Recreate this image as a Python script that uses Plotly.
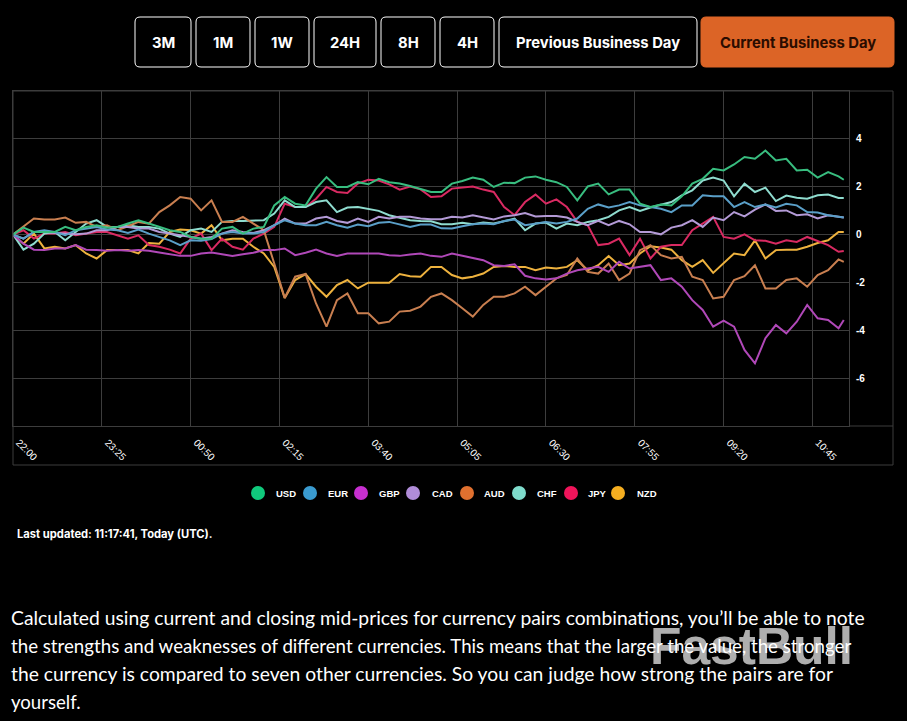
import plotly.graph_objects as go

# minutes since 22:00
minutes = list(range(0, 800, 10)) + [795]
tick_minutes = [0, 85, 170, 255, 340, 425, 510, 595, 680, 765]
tick_labels = ["22:00", "23:25", "00:50", "02:15", "03:40", "05:05", "06:30", "07:55", "09:20", "10:45"]
y_ticks = [-8, -6, -4, -2, 0, 2, 4, 6]
y_labels = ["", "-6", "-4", "-2", "0", "2", "4", ""]

usd = [0, .29, .11, .11, .11, .32, .18, .32, .39, .29, .32, .46, .6, .46, .32, .18, .11, -.1, -.17, -.17, .25, .32, .04, .25, .32, 1.22, 1.57, 1.29,
       1.22, 1.92, 2.4, 1.99, 1.99, 2.19, 2.1, 2.33, 2.19, 2.13, 2.03, 1.92, 1.78, 1.78, 2.13, 2.24, 2.38, 2.29, 1.99, 2.17, 2.15, 2.38, 2.43, 2.29, 2.19, 1.99,
       1.43, 2.01, 2.13, 1.68, 1.88, 1.88, 1.29, 1.15, 1.26, 1.22, 1.6, 2.13, 2.33, 2.75, 2.68, 2.93, 3.24, 3.17, 3.51, 3.1, 3.17, 2.68, 2.71, 2.38, 2.61, 2.43, 2.29]
eur = [0, -.17, .11, .18, .11, -.03, .18, .25, .32, .21, .18, .07, .21, .04, -.1, -.24, -.44, -.24, -.26, -.19, .04, .11, .04, .04, .11, .39, .6, .46,
       .39, .39, .53, .39, .29, .42, .35, .49, .53, .42, .32, .42, .42, .26, .25, .35, .43, .46, .43, .57, .63, .39, .46, .53, .46, .53,
       .67, 1.08, 1.26, 1.13, 1.22, 1.36, 1.22, 1.15, 1.08, .94, 1.22, 1.22, 1.64, 1.6, 1.6, 1.15, 1.36, 1.15, 1.26, 1.13, 1.29, 1.22, .94, .92, .81, .74, .71]
gbp = [0, -.38, -.63, -.65, -.58, -.58, -.44, -.63, -.65, -.68, -.65, -.68, -.65, -.68, -.75, -.83, -.89, -.89, -.79, -.75, -.82, -.89, -.82, -.76, -.65, -.65, -.58, -.86,
       -.76, -.63, -.79, -.89, -.79, -.79, -.82, -.79, -.86, -.89, -.83, -.79, -.89, -.93, -.79, -.89, -1.0, -1.07, -1.28, -1.31, -1.24, -1.72, -1.83, -1.88, -1.83, -1.63,
       -1.49, -1.42, -1.35, -1.56, -1.14, -1.42, -1.35, -1.28, -1.9, -1.83, -2.18, -2.74, -3.15, -3.85, -3.6, -3.85, -4.82, -5.38, -4.33, -3.78, -4.13, -3.64, -2.94, -3.5, -3.57, -3.92, -3.57]
cad = [0, -.17, .11, .11, .07, .04, .01, .04, .18, .18, .32, .32, .25, .25, .11, .04, -.03, -.07, -.17, -.1, .04, .18, .11, .07, .18, .39, .67, .46,
       .46, .67, .74, .57, .49, .67, .53, .74, .67, .74, .74, .67, .64, .64, .74, .71, .81, .71, .63, .76, .81, .9, .76, .78, .78, .71,
       .53, .39, .57, .39, .57, .43, .11, .11, .01, .29, .39, .6, .32, .71, .6, .94, .76, 1.04, 1.26, .99, 1.01, .81, .85, .67, .81, .74, .71]
aud = [0, .32, .67, .63, .63, .71, .49, .53, .32, .39, .18, .35, .53, .46, .94, 1.22, 1.57, 1.5, 1.01, 1.43, .53, .53, .74, .46, .18, -1.21, -2.65, -1.76,
       -1.65, -2.88, -3.85, -2.74, -2.46, -3.29, -3.29, -3.71, -3.64, -3.22, -3.18, -3.01, -2.6, -2.46, -2.74, -3.08, -3.43, -2.94, -2.6, -2.6, -2.46, -2.18, -2.53, -2.18, -1.83, -1.69,
       -1.0, -1.56, -1.63, -1.21, -1.9, -1.63, -.65, -.44, -.86, -1.0, -.93, -1.76, -1.9, -2.67, -2.6, -1.9, -1.74, -1.28, -2.25, -2.25, -1.9, -1.83, -2.18, -1.69, -1.49, -1.04, -1.14]
chf = [0, -.63, -.38, .04, .11, -.24, .11, .46, .6, .32, .32, .39, .32, .32, .25, .04, -.1, .18, .25, .11, .53, .57, .57, .57, .6, .88, 1.43, 1.15,
       1.15, 1.36, 1.43, .94, 1.13, 1.15, 1.08, .99, .81, .71, .6, .57, .56, .43, .43, .49, .43, .5, .46, .56, .67, .18, .46, .5, .25, .46,
       .39, .53, .6, .74, 1.01, 1.15, .99, 1.13, 1.26, 1.36, 1.64, 1.85, 2.26, 2.38, 2.26, 1.6, 2.13, 1.78, 1.96, 1.4, 1.63, 1.54, 1.5, 1.64, 1.67, 1.53, 1.53]
jpy = [0, .18, -.17, .04, .04, .11, -.03, .04, .11, .11, -.03, -.17, -.03, -.44, -.51, -.63, -.79, -.17, .04, -.65, -.17, -.51, -.63, -.17, .04, .32, 1.29, 1.15,
       1.15, 1.5, 1.99, 1.78, 1.74, 2.13, 2.29, 2.26, 2.1, 1.88, 2.01, 1.89, 1.57, 1.6, 1.92, 1.96, 2.01, 1.88, 1.78, 1.15, .81, 1.36, 1.67, 1.29, 1.47, 1.15,
       .53, .39, -.44, -.38, -.17, -.86, -.17, -1.0, -.51, -.44, -.44, .18, .46, .74, -.1, -.17, .01, -.24, -.26, -.38, -.24, -.31, -.1, -.26, -.44, -.72, -.69]
nzd = [0, -.38, .04, -.58, -.51, -.58, -.44, -.79, -1.0, -.65, -.65, -.65, -.79, -.35, -.38, .11, .21, .18, .04, .39, -.24, -.17, -.17, -.51, -.79, -1.35, -2.65, -1.9,
       -1.65, -2.18, -2.6, -2.11, -1.9, -2.25, -2.01, -2.01, -2.01, -1.65, -1.74, -1.76, -1.35, -1.35, -1.69, -1.83, -1.76, -1.63, -1.35, -1.31, -1.35, -1.35, -1.49, -1.38, -1.42, -1.35,
       -1.07, -1.49, -1.28, -.9, -1.28, -1.21, -.79, -.49, -.54, -.63, -1.07, -1.35, -1.07, -1.6, -1.21, -.79, -.86, -.24, -1.0, -.65, -.63, -.63, -.51, -.35, -.24, .11, .11]

names = ["USD", "EUR", "GBP", "CAD", "AUD", "CHF", "JPY", "NZD"]
series = [usd, eur, gbp, cad, aud, chf, jpy, nzd]
dot_colors = ["#10c97c", "#3a9bd0", "#c72fd0", "#b08cd8", "#e0702f", "#7fdccc", "#f0145a", "#f5ae20"]
line_colors = ["#38bd7f", "#5a9fc8", "#b048b8", "#b39ad6", "#c97f50", "#8fdccf", "#d92a62", "#eeb23e"]

# legend is hand placed, the native one can't get this tight
dot_x = [258, 310, 361, 413, 467, 519, 571, 618]
name_x = [274, 326, 377, 430, 482, 535, 586, 635]

button_labels = ["3M", "1M", "1W", "24H", "8H", "4H", "Previous Business Day", "Current Business Day"]
button_left = [135, 196, 255, 314, 381, 440, 499, 701]
button_right = [191, 250, 309, 376, 435, 494, 697, 894]

paragraph = [
    "Calculated using current and closing mid-prices for currency pairs combinations, you’ll be able to note",
    "the strengths and weaknesses of different currencies. This means that the larger the value, the stronger",
    "the currency is compared to seven other currencies. So you can judge how strong the pairs are for",
    "yourself.",
]
# Lato runs wider than the original font on some lines
paragraph_sizes = [19.3, 18.7, 19.3, 18.6]

grid = "#3d3d3d"
L, R, T, B = 13, 849, 91, 426


def px(x):
    return (x - L) / (R - L)


def py(y):
    return (B - y) / (B - T)


def round_rect(x0, y0, x1, y1, r=5):
    a, b, c, d = px(x0), px(x1), py(y0), py(y1)
    rx, ry = r / (R - L), r / (B - T)
    return (f"M {a+rx} {c} L {b-rx} {c} Q {b} {c} {b} {c-ry} L {b} {d+ry} Q {b} {d} {b-rx} {d} "
            f"L {a+rx} {d} Q {a} {d} {a} {d+ry} L {a} {c-ry} Q {a} {c} {a+rx} {c} Z")


def note(text, x, y, xanchor="left", **font):
    return dict(text=text, xref="paper", yref="paper", x=px(x), y=py(y), xanchor=xanchor, yanchor="middle",
                showarrow=False, font=font)


fig = go.Figure()

# first series sits on top, so draw them backwards
for i in reversed(range(len(names))):
    fig.add_trace(go.Scatter(x=minutes, y=series[i], mode="lines", name=names[i], showlegend=False, hoverinfo="skip",
                             line=dict(color=line_colors[i], width=2)))

shapes = [
    dict(type="rect", xref="paper", yref="paper", x0=px(13), x1=px(893), y0=py(91), y1=py(465),
         line=dict(color=grid, width=1)),
    dict(type="line", xref="paper", yref="paper", x0=px(849), x1=px(893), y0=py(426), y1=py(426),
         line=dict(color=grid, width=1)),
]
annotations = [note("FastBull", 751, 646, "center", family="Liberation Sans", size=51.5,
                    color="rgba(205,205,205,0.85)", weight=700)]

for label, x0, x1 in zip(button_labels, button_left, button_right):
    active = label == "Current Business Day"
    shapes.append(dict(type="path", xref="paper", yref="paper", path=round_rect(x0, 17, x1, 67),
                       fillcolor="#dc6426" if active else "#000000",
                       line=dict(color="#dc6426" if active else "#ffffff", width=1)))
    annotations.append(note(label, (x0 + x1) / 2, 43, "center", family="Inter", size=14.8, weight=700,
                            color="#2a0c00" if active else "#ffffff"))

for name, color, dx, tx in zip(names, dot_colors, dot_x, name_x):
    shapes.append(dict(type="circle", xref="paper", yref="paper", x0=px(dx - 7), x1=px(dx + 7), y0=py(500), y1=py(486),
                       fillcolor=color, line=dict(width=0)))
    annotations.append(note(name, tx, 493, family="Liberation Sans", size=9.5, weight=700, color="#ffffff"))

annotations.append(note("Last updated: 11:17:41, Today (UTC).", 15, 534, family="Inter", size=11.2, weight=700,
                        color="#ffffff"))

for n, line in enumerate(paragraph):
    annotations.append(note(line, 9, 617.5 + 28 * n, family="Lato", size=paragraph_sizes[n], color="#ffffff"))

fig.update_layout(
    width=907, height=721, autosize=False,
    margin=dict(l=L, r=907 - R, t=T, b=721 - B),
    paper_bgcolor="#000000", plot_bgcolor="#000000", showlegend=False,
    shapes=shapes, annotations=annotations,
    xaxis=dict(range=[0, 800], tickmode="array", tickvals=tick_minutes,
               ticktext=["\u00a0\u00a0\u00a0" + t for t in tick_labels], tickangle=45, automargin=False,
               gridcolor=grid, gridwidth=1, zeroline=False, showline=True, mirror=True, linecolor=grid,
               ticks="", ticklabelstandoff=0,
               tickfont=dict(family="Liberation Sans", size=10, color="#ffffff")),
    yaxis=dict(range=[-8, 6], side="right", tickmode="array", tickvals=y_ticks, ticktext=y_labels, automargin=False,
               gridcolor=grid, gridwidth=1, zeroline=False, showline=True, mirror=True, linecolor=grid,
               ticks="", ticklabelstandoff=4,
               tickfont=dict(family="Liberation Sans", size=10, color="#ffffff", weight=700)),
)

fig.write_html("out.html", config=dict(displayModeBar=False), post_script="document.body.style.margin='0';")
